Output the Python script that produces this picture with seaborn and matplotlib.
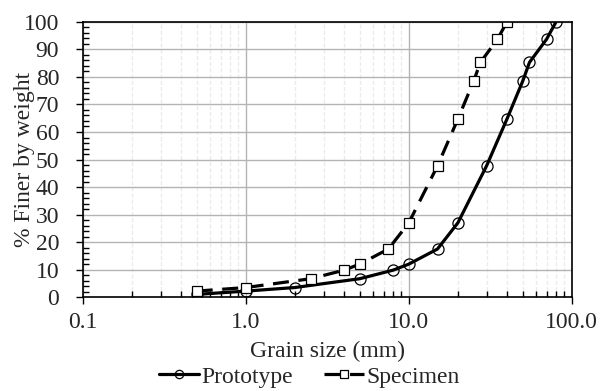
import pandas as pd
import numpy as np
import matplotlib.pyplot as plt
import seaborn as sns
from matplotlib.ticker import FixedLocator, MultipleLocator, FuncFormatter

sns.set_theme(style="white")
plt.rcParams['font.family'] = ['Liberation Serif', 'DejaVu Serif']

## Data
proto_size = [0.5, 1.0, 2.0, 5.0, 8.0, 10.0, 15.0, 20.0, 30.0, 40.0, 50.0, 55.0, 70.0, 80.0]
proto_finer = [1.0, 2.2, 3.5, 6.7, 9.8, 12.0, 17.5, 27.0, 47.7, 64.7, 78.5, 85.3, 93.7, 100.0]
spec_size = [0.5, 1.0, 2.5, 4.0, 5.0, 7.5, 10.0, 15.0, 20.0, 25.0, 27.5, 35.0, 40.0]
spec_finer = [2.2, 3.5, 6.7, 9.8, 12.0, 17.5, 27.0, 47.7, 64.7, 78.5, 85.3, 93.7, 100.0]

data = pd.concat([
    pd.DataFrame({"size": proto_size, "finer": proto_finer, "series": "Prototype"}),
    pd.DataFrame({"size": spec_size, "finer": spec_finer, "series": "Specimen"}),
])

fig = plt.figure(figsize=(6, 3.91), dpi=100)
ax = fig.add_axes([0.138, 0.240, 0.815, 0.704])

proto = data[data["series"] == "Prototype"]
spec = data[data["series"] == "Specimen"]
sns.lineplot(data=proto, x="size", y="finer", ax=ax, color="black", lw=2.3,
             marker="o", ms=8, mfc="none", mec="black", mew=0.9,
             label="Prototype", sort=False)
sns.lineplot(data=spec, x="size", y="finer", ax=ax, color="black", lw=2.3,
             marker="s", ms=7.5, mfc="white", mec="black", mew=0.9,
             label="Specimen", sort=False)
ax.lines[1].set_dashes([5, 3])

ax.set_xscale("log")
ax.set_xlim(0.1, 100)
ax.set_ylim(0, 100)

# ticks
ax.xaxis.set_major_locator(FixedLocator([0.1, 1, 10, 100]))
ax.xaxis.set_major_formatter(FuncFormatter(lambda v, p: f"{v:.1f}"))
minors = [m * d for d in [0.1, 1, 10] for m in range(2, 10)]
ax.xaxis.set_minor_locator(FixedLocator(minors))
ax.yaxis.set_major_locator(MultipleLocator(10))
ax.yaxis.set_minor_locator(MultipleLocator(2))
ax.tick_params(which="major", direction="out", length=5, width=1, color="black",
               labelsize=17, bottom=True, left=True)
ax.tick_params(axis="y", which="major", pad=12)
ax.tick_params(axis="x", which="major", pad=6)
ax.tick_params(which="minor", direction="in", length=4, width=1, color="black",
               bottom=True, left=True)

# grid
ax.grid(which="major", axis="both", color="#b4b4b4", lw=1)
ax.grid(which="minor", axis="x", color="#ebebeb", lw=1, ls=(0, (3, 1.5)))
ax.set_axisbelow(True)
for s in ax.spines.values():
    s.set_color("black")
    s.set_linewidth(1.2)

ax.set_xlabel("Grain size (mm)", fontsize=17, labelpad=5)
ax.set_ylabel("% Finer by weight", fontsize=17, labelpad=0)
ax.yaxis.set_label_coords(-0.098, 0.5)

ax.get_legend().remove()
handles, labels = ax.get_legend_handles_labels()
fig.legend(handles, labels, loc="center", bbox_to_anchor=(0.515, 0.036), ncol=2,
           frameon=False, fontsize=17, handlelength=1.7, handletextpad=0.1,
           columnspacing=1.3, borderpad=0, markerscale=0.75)

fig.savefig("out.png", dpi=100)
